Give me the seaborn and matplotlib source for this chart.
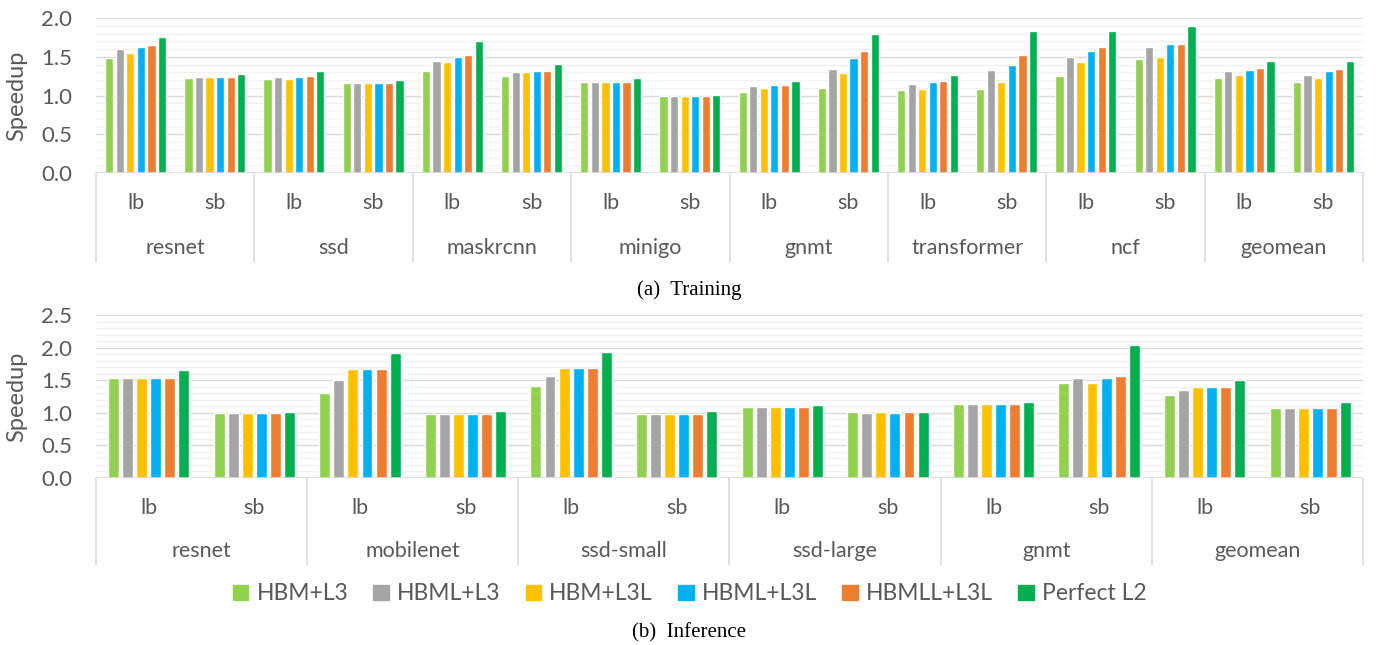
import numpy as np
import pandas as pd
import matplotlib
matplotlib.use("Agg")
import matplotlib.pyplot as plt
from matplotlib.ticker import MultipleLocator, FormatStrFormatter
import seaborn as sns

configs = ["HBM+L3", "HBML+L3", "HBM+L3L", "HBML+L3L", "HBMLL+L3L", "Perfect L2"]
colors = ["#92D050", "#A5A5A5", "#FFC000", "#00B0F0", "#ED7D31", "#00B050"]
subs = ["lb", "sb"]

train_groups = ["resnet", "ssd", "maskrcnn", "minigo", "gnmt", "transformer", "ncf", "geomean"]
train_vals = [
    [1.49, 1.60, 1.55, 1.62, 1.65, 1.76],   # resnet lb
    [1.23, 1.24, 1.24, 1.24, 1.24, 1.28],   # resnet sb
    [1.21, 1.24, 1.21, 1.24, 1.25, 1.31],   # ssd lb
    [1.16, 1.16, 1.16, 1.16, 1.16, 1.20],   # ssd sb
    [1.32, 1.45, 1.43, 1.50, 1.52, 1.70],   # maskrcnn lb
    [1.25, 1.30, 1.30, 1.32, 1.32, 1.41],   # maskrcnn sb
    [1.17, 1.17, 1.18, 1.18, 1.18, 1.22],   # minigo lb
    [1.00, 1.00, 1.00, 1.00, 1.00, 1.01],   # minigo sb
    [1.05, 1.12, 1.10, 1.13, 1.14, 1.19],   # gnmt lb
    [1.10, 1.34, 1.29, 1.49, 1.57, 1.79],   # gnmt sb
    [1.07, 1.15, 1.09, 1.17, 1.19, 1.26],   # transformer lb
    [1.09, 1.33, 1.17, 1.39, 1.52, 1.83],   # transformer sb
    [1.25, 1.50, 1.43, 1.58, 1.62, 1.83],   # ncf lb
    [1.47, 1.63, 1.50, 1.66, 1.67, 1.90],   # ncf sb
    [1.22, 1.31, 1.27, 1.33, 1.35, 1.44],   # geomean lb
    [1.18, 1.27, 1.23, 1.31, 1.34, 1.45],   # geomean sb
]

infer_groups = ["resnet", "mobilenet", "ssd-small", "ssd-large", "gnmt", "geomean"]
infer_vals = [
    [1.53, 1.53, 1.53, 1.53, 1.53, 1.65],   # resnet lb
    [0.99, 0.99, 0.99, 0.99, 0.99, 1.01],   # resnet sb
    [1.31, 1.51, 1.67, 1.67, 1.67, 1.92],   # mobilenet lb
    [0.98, 0.98, 0.98, 0.98, 0.98, 1.03],   # mobilenet sb
    [1.41, 1.56, 1.68, 1.68, 1.69, 1.94],   # ssd-small lb
    [0.98, 0.98, 0.98, 0.98, 0.98, 1.02],   # ssd-small sb
    [1.09, 1.09, 1.09, 1.09, 1.09, 1.12],   # ssd-large lb
    [1.01, 1.00, 1.01, 1.00, 1.01, 1.01],   # ssd-large sb
    [1.13, 1.13, 1.13, 1.13, 1.13, 1.16],   # gnmt lb
    [1.46, 1.54, 1.46, 1.54, 1.56, 2.04],   # gnmt sb
    [1.28, 1.35, 1.40, 1.40, 1.40, 1.51],   # geomean lb
    [1.07, 1.08, 1.07, 1.08, 1.08, 1.17],   # geomean sb
]

TXT = "#595959"
sns.set_theme(style="white")
plt.rcParams["font.family"] = ["Lato", "DejaVu Sans"]

W, H = 1379, 645
fig = plt.figure(figsize=(W / 100, H / 100), dpi=100)


def make_df(groups, vals):
    rows = []
    for gi, g in enumerate(groups):
        for si, s in enumerate(subs):
            for ci, c in enumerate(configs):
                rows.append({"slot": f"{g}|{s}", "config": c,
                             "value": vals[gi * 2 + si][ci]})
    return pd.DataFrame(rows)


def panel(rect, groups, vals, ymax, sub_off, name_off, box_off, caption, cap_y):
    ax = fig.add_axes(rect)
    df = make_df(groups, vals)
    sns.barplot(data=df, x="slot", y="value", hue="config", hue_order=configs,
                palette=colors, width=0.8, gap=0.22, ax=ax, legend=False,
                errorbar=None, saturation=1, zorder=3)
    n = len(groups) * 2
    ax.set_xlim(-0.5, n - 0.5)
    ax.set_ylim(0, ymax)
    ax.yaxis.set_major_locator(MultipleLocator(0.5))
    ax.yaxis.set_minor_locator(MultipleLocator(0.1))
    ax.yaxis.set_major_formatter(FormatStrFormatter("%.1f"))
    ax.grid(axis="y", which="major", color="#d9d9d9", lw=1.0, zorder=0)
    ax.grid(axis="y", which="minor", color="#f0f0f0", lw=1.0, zorder=0)
    ax.set_axisbelow(True)
    for sp in ax.spines.values():
        sp.set_visible(False)
    ax.set_xticks([])
    ax.set_xlabel("")
    ax.tick_params(axis="y", length=0, pad=17, labelsize=16, labelcolor=TXT)
    ax.set_ylabel("Speedup", fontsize=17, color=TXT)
    ax.yaxis.set_label_coords(-69 / (rect[2] * W), 0.5)
    ax.axhline(0, color="#d9d9d9", lw=1.2, zorder=4)
    ah = rect[3] * H
    for i in range(n):
        ax.annotate(subs[i % 2], xy=(i, 0), xycoords=("data", "axes fraction"),
                    xytext=(0, -sub_off), textcoords="offset pixels",
                    ha="center", va="center", fontsize=15.5, color=TXT)
    for gi, g in enumerate(groups):
        ax.annotate(g, xy=(2 * gi + 0.5, 0), xycoords=("data", "axes fraction"),
                    xytext=(0, -name_off), textcoords="offset pixels",
                    ha="center", va="center", fontsize=15.5, color=TXT)
    for k in range(len(groups) + 1):
        x = 2 * k - 0.5
        ax.plot([x, x], [0, -box_off / ah], transform=ax.get_xaxis_transform(),
                color="#d9d9d9", lw=1.1, clip_on=False)
    fig.text(0.5, cap_y, caption, ha="center", va="center", fontsize=15,
             family=["Liberation Serif", "DejaVu Serif"], color="black")
    return ax


l, r = 96 / W, 1363 / W
ax1 = panel([l, 1 - 173 / H, r - l, (173 - 18) / H], train_groups, train_vals, 2.0,
            30, 75, 89, "(a)  Training", 1 - 290 / H)
ax2 = panel([l, 1 - 478 / H, r - l, (478 - 315) / H], infer_groups, infer_vals, 2.5,
            30, 73, 87, "(b)  Inference", 1 - 633 / H)

handles = [plt.Rectangle((0, 0), 1, 1, color=c) for c in colors]
fig.legend(handles, configs, loc="center", bbox_to_anchor=(0.5, 1 - 594 / H),
           ncol=6, frameon=False, fontsize=16.5, handlelength=0.68, handleheight=0.68,
           handletextpad=0.35, columnspacing=1.1, labelcolor=TXT)

fig.savefig("out.png", dpi=100)
